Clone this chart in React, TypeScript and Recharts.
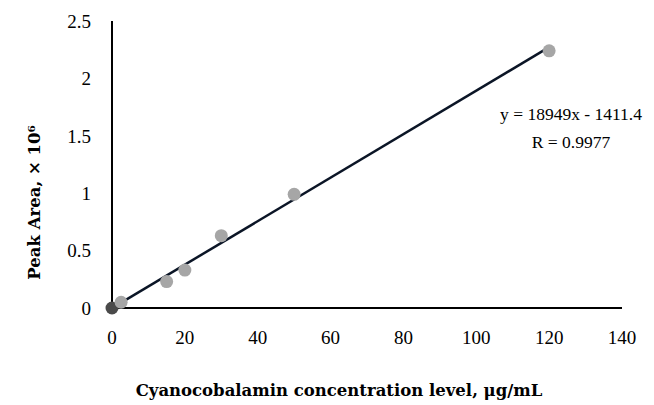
import React from 'react';
import { ScatterChart, Scatter, XAxis, YAxis, ReferenceLine, Cell } from 'recharts';

// concentration (µg/mL) vs peak area (×10^6)
const concentration = [0, 2.5, 15, 20, 30, 50, 120];
const peakArea = [0, 0.05, 0.23, 0.33, 0.63, 0.99, 2.24];

const xTicks = [0, 20, 40, 60, 80, 100, 120, 140];
const yTicks = [0, 0.5, 1, 1.5, 2, 2.5];

// fitted line: y = 18949x - 1411.4 (raw peak area)
const slope = 18949;
const intercept = -1411.4;
const fitRange = [0, 120];

const points = concentration.map((c, i) => ({ x: c, y: peakArea[i] }));
const fit = fitRange.map((x) => ({ x, y: (slope * x + intercept) / 1e6 }));

const font = '"Liberation Serif", "Times New Roman", serif';
const titleFont = '"DejaVu Serif", "Liberation Serif", serif';

const Dot = (props: any) => {
  const { cx, cy, fill } = props;
  return <circle cx={cx} cy={cy} r={6.5} fill={fill} />;
};

const App: React.FC = () => {
  return (
    <div style={{ position: 'absolute', left: 0, top: 0, width: 654, height: 405, fontFamily: font }}>
      <ScatterChart width={654} height={405} margin={{ top: 21, right: 32, bottom: 0, left: 0 }}>
        <XAxis
          type="number"
          dataKey="x"
          domain={[0, 140]}
          ticks={xTicks}
          tickLine={false}
          tickSize={6}
          tickMargin={17}
          height={97}
          axisLine={{ stroke: '#000', strokeWidth: 2 }}
          tick={{ fill: '#000', fontSize: 19, fontFamily: font }}
          label={{
            value: 'Cyanocobalamin concentration level, μg/mL',
            position: 'insideBottom',
            offset: 9,
            dx: -28,
            style: { fill: '#000', fontSize: 16.5, fontWeight: 'bold', fontFamily: titleFont },
          }}
        />
        <YAxis
          type="number"
          dataKey="y"
          domain={[0, 2.5]}
          ticks={yTicks}
          tickLine={false}
          tickSize={6}
          tickMargin={15}
          width={112}
          axisLine={{ stroke: '#000', strokeWidth: 2 }}
          tick={{ fill: '#000', fontSize: 19, fontFamily: font }}
          label={{
            value: 'Peak Area, × 10⁶',
            angle: -90,
            position: 'insideLeft',
            offset: 34,
            dy: 38,
            style: { fill: '#000', fontSize: 16.5, fontWeight: 'bold', fontFamily: titleFont, textAnchor: 'middle' },
          }}
        />
        <Scatter data={points} fill="#a6a6a6" isAnimationActive={false} shape={<Dot />}>
          {points.map((p, i) => (
            <Cell key={i} fill={p.x === 0 ? '#4a4a4a' : '#a6a6a6'} />
          ))}
        </Scatter>
        <ReferenceLine
          segment={fit}
          stroke="#0b1526"
          strokeWidth={2.5}
          ifOverflow="visible"
        />
      </ScatterChart>
      <div
        style={{
          position: 'absolute',
          left: 494,
          top: 100,
          width: 154,
          textAlign: 'center',
          fontSize: 17.5,
          lineHeight: '28px',
          color: '#000',
        }}
      >
        y = 18949x - 1411.4
        <br />
        R = 0.9977
      </div>
    </div>
  );
};

export default App;
